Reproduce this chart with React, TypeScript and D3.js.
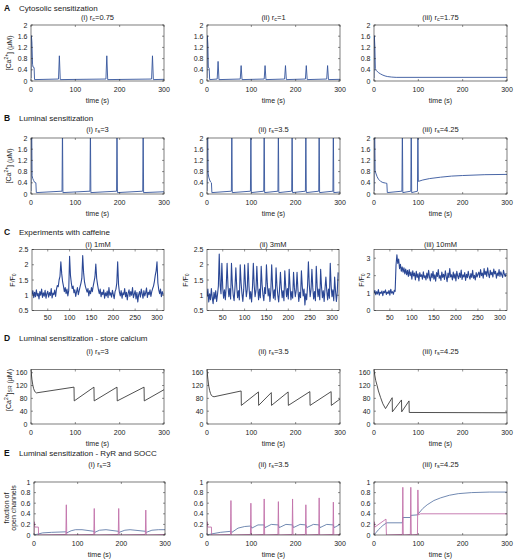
import React from 'react';
import * as d3 from 'd3';

type Pt = [number, number];

// ---------------- DATA ----------------
// A: cytosolic sensitization, [Ca2+] (uM) vs time (s)
const cytoRc075: Pt[] = [[0,0.1],[0.8,1.62],[2,1.4],[3.5,0.6],[4.5,0.5],[7,0.48],[8,0.05],[62,0.07],[64,0.9],[66,0.05],[169,0.07],[171,0.9],[173,0.05],[272,0.07],[274,0.9],[276,0.05],[300,0.06]];
const cytoRc1: Pt[] = [[0,0.1],[0.8,1.62],[2,1.3],[3,0.5],[5,0.45],[6,0.05],[23,0.07],[25,0.7],[27,0.05],[75,0.07],[77,0.55],[79,0.05],[129,0.07],[131,0.55],[133,0.05],[175,0.07],[177,0.55],[179,0.05],[222,0.07],[224,0.55],[226,0.05],[270,0.07],[272,0.55],[274,0.05],[300,0.06]];
const cytoRc175: Pt[] = [[0,0.1],[0.8,1.62],[2,1.2],[3,0.45],[5,0.38],[10,0.3],[15,0.25],[20,0.21],[25,0.18],[30,0.16],[40,0.14],[50,0.13],[300,0.13]];

// B: luminal sensitization
const lumRs3: Pt[] = [[0,0.1],[0.5,2.5],[1.5,2.5],[2.5,0.65],[4,0.55],[6,0.48],[8,0.42],[11,0.4],[12,0.05],[70,0.1],[71,2.5],[72,0.05],[133,0.1],[134,2.5],[135,0.05],[193,0.1],[194,2.5],[195,0.05],[252,0.1],[253,2.5],[254,0.05],[300,0.08]];
const lumRs35: Pt[] = [[0,0.1],[0.5,2.5],[1.5,2.5],[2.5,0.75],[4,0.6],[6,0.5],[8,0.43],[10,0.4],[11,0.05],[55,0.1],[56,2.5],[57,0.05],[98,0.1],[99,2.5],[100,0.05],[128,0.1],[129,2.5],[130,0.05],[160,0.1],[161,2.5],[162,0.05],[191,0.1],[192,2.5],[193,0.05],[222,0.1],[223,2.5],[224,0.05],[252,0.1],[253,2.5],[254,0.05],[284,0.1],[285,2.5],[286,0.05],[300,0.07]];
const lumRs425: Pt[] = [[0,0.1],[0.5,2.5],[1.5,2.5],[2.5,0.85],[4,0.75],[7,0.62],[10,0.53],[15,0.45],[20,0.41],[26,0.39],[29,0.38],[30,0.05],[63,0.1],[64,2.5],[65,0.05],[83,0.1],[84,2.5],[85,0.05],[98,0.1],[99,2.5],[100,0.45],[110,0.5],[125,0.55],[150,0.6],[175,0.64],[200,0.66],[250,0.69],[300,0.7]];

// C: caffeine experiments, F/F0 sampled every 2 s from t = 14 s
const caffeineStart = 14;
const caffeineStep = 2;
const caff1mM: number[] = [
  1.02,1.15,0.92,1.10,0.95,1.18,0.98,1.06,0.88,1.12,1.00,1.20,0.93,1.08,0.97,1.16,0.90,1.05,1.13,0.94,1.09,0.99,1.22,0.91,1.07,1.02,1.17,0.96,
  1.20,1.32,1.28,1.50,1.62,2.10,1.70,1.45,1.30,1.12,1.25,
  1.05,1.20,0.98,1.15,
  2.28,
  1.65,1.40,1.22,1.30,1.08,
  1.18,0.96,1.12,1.25,1.02,1.15,1.28,1.40,
  1.55,2.30,1.75,1.45,1.30,1.20,1.10,
  1.22,0.98,1.15,1.05,1.25,1.12,1.30,
  1.45,1.60,2.02,1.55,1.35,1.18,1.05,1.20,
  0.95,1.10,1.02,1.18,0.90,1.08,0.98,1.14,0.92,1.25,1.00,1.08,0.94,1.16,1.03,0.89,1.12,1.20,
  1.40,2.10,1.35,1.10,
  0.98,1.15,0.90,1.08,1.02,1.22,0.95,1.10,0.85,1.06,1.18,0.96,1.12,1.00,1.25,0.92,1.04,1.15,0.88,1.10,0.78,1.02,1.12,0.94,1.20,1.05,0.90,1.15,0.98,1.08,1.24,0.93,1.10,1.02,1.18,0.96,1.12,1.22,
  1.30,1.45,1.65,1.80,2.10,
  1.40,1.18,1.05,1.20,0.95,1.12,1.02,
];
const caff3mM: number[] = [
  0.95,1.20,0.78,1.05,0.85,1.22,0.92,0.72,1.10,0.88,1.15,0.80,1.02,1.30,2.35,1.35,1.05,2.05,1.25,0.90,
  1.18,0.85,1.30,2.05,1.30,0.95,1.22,0.88,2.05,1.35,1.00,0.82,1.25,1.90,1.28,0.92,1.15,0.85,2.00,1.40,
  1.05,0.80,1.20,2.00,1.35,0.95,1.18,2.05,1.30,0.88,1.12,0.78,1.25,2.05,1.32,0.95,1.15,1.95,1.28,0.85,
  1.20,0.92,1.95,1.35,1.02,0.82,1.25,1.05,2.00,1.38,0.98,1.22,0.80,1.15,2.00,1.30,0.90,1.18,0.85,1.90,
  1.32,1.00,0.78,1.20,1.75,1.25,0.92,1.15,0.82,1.80,1.30,0.95,1.22,0.88,1.85,1.28,0.85,1.12,0.90,1.75,
  1.25,0.95,1.15,1.75,1.20,0.80,1.10,0.92,1.80,1.28,0.98,1.20,0.68,1.05,0.85,1.30,2.10,1.35,0.95,1.18,
  1.85,1.25,0.88,1.12,0.82,1.95,1.30,0.95,1.20,0.85,1.85,1.28,0.92,1.15,0.80,1.22,1.60,1.15,0.85,1.20,
  0.90,2.05,1.30,0.95,1.18,0.82,1.60,1.15,0.80,1.10,1.75,
];
const caff10mM: number[] = [
  1.00,1.15,0.90,1.08,0.95,1.20,0.88,1.05,0.98,1.12,0.85,1.10,1.02,1.18,0.92,1.06,0.97,1.15,0.88,1.22,1.00,1.08,0.93,1.16,1.10,
  2.60,3.20,2.70,2.95,2.40,2.65,2.25,2.50,2.20,2.45,2.10,2.38,2.05,2.30,
  1.95,2.35,2.00,2.20,1.80,2.28,1.98,2.15,1.75,2.25,1.90,2.10,1.70,2.18,1.95,2.05,1.80,2.22,1.88,2.00,
  1.75,2.15,1.85,2.30,1.92,1.70,2.12,1.88,2.25,1.80,2.05,1.68,2.18,1.95,2.35,1.85,2.00,1.72,2.20,1.90,
  2.08,1.78,2.28,1.95,1.65,2.15,1.88,2.40,1.92,2.05,1.75,2.20,1.85,2.10,1.70,2.25,1.98,1.82,2.15,1.90,
  2.32,1.78,2.05,1.92,2.18,1.72,2.08,1.88,2.25,1.95,1.80,2.12,1.90,2.30,1.85,2.02,1.75,2.18,1.92,2.08,
  2.20,1.90,2.35,2.00,2.15,1.85,2.40,2.05,2.25,1.95,2.45,2.10,1.88,2.30,2.05,2.20,1.92,2.38,2.10,2.25,
  1.85,2.15,2.00,2.35,1.95,2.22,2.05,1.90,2.30,2.08,1.95,2.15,
];

// D: store calcium [Ca2+]SR (uM)
const storeRs3: Pt[] = [[0,168],[2,140],[4,122],[6,110],[8,103],[10,99],[12,97],[97,115],[97.5,72],[142,115],[142.5,72],[194,115],[194.5,72],[255,115],[255.5,72],[300,107]];
const storeRs35: Pt[] = [[0,168],[2,140],[4,118],[6,104],[8,95],[10,89],[13,86],[16,85],[77,103],[77.5,58],[116,100],[116.5,58],[145,98],[145.5,58],[183,100],[183.5,58],[232,101],[232.5,58],[280,101],[280.5,58],[300,78]];
const storeRs425: Pt[] = [[0,168],[2,150],[4,135],[7,120],[10,103],[15,82],[20,63],[26,48],[41,82],[41.5,38],[62,75],[62.5,38],[79,72],[79.5,36],[300,35]];

// E: fraction of open channels (RyR pink, SOCC blue)
const ryrRs3: Pt[] = [[0,0.02],[0.5,0.25],[1.5,0.16],[2,0.15],[10,0.15],[10.5,0],[73,0.01],[74,0.57],[75,0],[137,0.01],[138,0.5],[139,0],[193,0.01],[194,0.5],[195,0],[255,0.01],[256,0.47],[257,0],[300,0.01]];
const soccRs3: Pt[] = [[0,0],[5,0.01],[10,0.02],[20,0.04],[40,0.05],[73,0.06],[75,0.04],[85,0.08],[95,0.1],[110,0.1],[137,0.07],[139,0.05],[150,0.09],[165,0.1],[193,0.07],[195,0.05],[208,0.09],[220,0.1],[255,0.07],[257,0.05],[270,0.09],[285,0.1],[300,0.1]];
const ryrRs35: Pt[] = [[0,0.02],[0.5,0.25],[1.5,0.16],[2,0.15],[10,0.15],[10.5,0],[53,0.01],[54,0.65],[55,0],[98,0.01],[99,0.6],[100,0],[128,0.01],[129,0.68],[130,0],[160,0.01],[161,0.63],[162,0],[192,0.01],[193,0.68],[194,0],[222,0.01],[223,0.57],[224,0],[252,0.01],[253,0.7],[254,0],[284,0.01],[285,0.62],[286,0],[300,0.01]];
const soccRs35: Pt[] = [[0,0],[10,0.02],[30,0.05],[54,0.07],[56,0.05],[70,0.13],[85,0.16],[99,0.17],[101,0.13],[115,0.19],[129,0.19],[131,0.14],[145,0.2],[161,0.19],[163,0.14],[178,0.2],[193,0.19],[195,0.14],[210,0.2],[223,0.19],[225,0.14],[240,0.2],[253,0.19],[255,0.14],[270,0.2],[285,0.19],[287,0.14],[300,0.2]];
const ryrRs425: Pt[] = [[0,0.02],[0.5,0.25],[1.5,0.16],[2,0.15],[27,0.3],[28,0],[64,0.01],[65,0.9],[66,0],[82,0.01],[83,0.9],[84,0],[98,0.01],[99,0.85],[100,0.38],[105,0.4],[300,0.4]];
const soccRs425: Pt[] = [[0,0],[5,0.05],[10,0.1],[15,0.14],[20,0.18],[25,0.21],[29,0.23],[64,0.23],[65,0.33],[82,0.33],[83,0.37],[98,0.38],[100,0.4],[110,0.5],[120,0.57],[135,0.65],[150,0.7],[170,0.75],[190,0.78],[220,0.8],[260,0.81],[300,0.81]];

// Tick values
const timeTicks = [0, 100, 200, 300];
const caffTimeTicks = [50, 100, 150, 200, 250, 300];
const caTicks = [0, 0.4, 0.8, 1.2, 1.6, 2];
const caffTicksLow = [0.5, 1, 1.5, 2, 2.5];
const caffTicksHigh = [0, 1, 2, 3];
const storeTicks = [0, 40, 80, 120, 160];
const fracTicks = [0, 0.2, 0.4, 0.6, 0.8, 1];

// ---------------- STYLE / LAYOUT ----------------
const FONT = '"Liberation Sans", Arial, Helvetica, sans-serif';
const AXIS = '#262626';
const BLUE = '#34559c';
const CAFF = '#2a4795';
const GRAY = '#3c3c3c';
const EBLUE = '#4e6c9e';
const PINK = '#c272aa';

const caffPts = (vals: number[]): Pt[] => vals.map((v, i) => [caffeineStart + i * caffeineStep, v]);

type Series = { points: Pt[]; color: string; width?: number };

type PanelProps = {
  id: string;
  x0: number; x1: number; y0: number; y1: number;
  xDomain: [number, number]; yDomain: [number, number];
  xTicks: number[]; yTicks: number[];
  series: Series[];
  subtitle: React.ReactNode; subY: number;
  yLabel?: React.ReactNode;
  xLabel?: boolean;
  xLabGap?: number;
};

function Panel(p: PanelProps) {
  const x = d3.scaleLinear().domain(p.xDomain).range([p.x0, p.x1]);
  const y = d3.scaleLinear().domain(p.yDomain).range([p.y1, p.y0]);
  const line = d3.line<Pt>().x(d => x(d[0])).y(d => y(d[1]));
  const tl = 2;
  const gap = p.xLabGap ?? 8.5;
  return (
    <g>
      <clipPath id={`clip-${p.id}`}>
        <rect x={p.x0} y={p.y0} width={p.x1 - p.x0} height={p.y1 - p.y0} />
      </clipPath>
      <g clipPath={`url(#clip-${p.id})`}>
        {p.series.map((s, i) => (
          <path key={i} d={line(s.points) || ''} fill="none" stroke={s.color} strokeWidth={s.width ?? 0.9} strokeLinejoin="round" />
        ))}
      </g>
      <rect x={p.x0} y={p.y0} width={p.x1 - p.x0} height={p.y1 - p.y0} fill="none" stroke={AXIS} strokeWidth={0.6} />
      {p.xTicks.map(t => (
        <g key={`xt${t}`}>
          <line x1={x(t)} x2={x(t)} y1={p.y1} y2={p.y1 - tl} stroke={AXIS} strokeWidth={0.5} />
          <line x1={x(t)} x2={x(t)} y1={p.y0} y2={p.y0 + tl} stroke={AXIS} strokeWidth={0.5} />
          <text x={x(t)} y={p.y1 + gap} textAnchor="middle" dominantBaseline="central" fontSize={7} fill="#222">{String(t)}</text>
        </g>
      ))}
      {p.yTicks.map(t => (
        <g key={`yt${t}`}>
          <line x1={p.x0} x2={p.x0 + tl} y1={y(t)} y2={y(t)} stroke={AXIS} strokeWidth={0.5} />
          <line x1={p.x1} x2={p.x1 - tl} y1={y(t)} y2={y(t)} stroke={AXIS} strokeWidth={0.5} />
          <text x={p.x0 - 3.5} y={y(t)} textAnchor="end" dominantBaseline="central" fontSize={7} fill="#222">{String(t)}</text>
        </g>
      ))}
      {p.xLabel && (
        <text x={(p.x0 + p.x1) / 2} y={p.y1 + 19} textAnchor="middle" dominantBaseline="central" fontSize={7} fill="#222">time (s)</text>
      )}
      <text x={(p.x0 + p.x1) / 2} y={p.subY} textAnchor="middle" dominantBaseline="central" fontSize={7.5} fill="#222">{p.subtitle}</text>
      {p.yLabel}
    </g>
  );
}

const Sub = ({ base, sub, rest }: { base: string; sub: string; rest: string }) => (
  <>
    {base}
    <tspan fontSize={5.5} dy={1.8}>{sub}</tspan>
    <tspan dy={-1.8}>{rest}</tspan>
  </>
);

const rotLabel = (x: number, y: number, content: React.ReactNode) => (
  <text transform={`translate(${x},${y}) rotate(-90)`} textAnchor="middle" dominantBaseline="central" fontSize={7} fill="#222">{content}</text>
);

const caLabel = (x: number, y: number) => rotLabel(x, y, (
  <>[Ca<tspan fontSize={5} dy={-2.5}>2+</tspan><tspan dy={2.5}>] (μM)</tspan></>
));
const srLabel = (x: number, y: number) => rotLabel(x, y, (
  <>[Ca<tspan fontSize={5} dy={-2.5}>2+</tspan><tspan dy={2.5}>]</tspan><tspan fontSize={5} dy={1.8}>SR</tspan><tspan dy={-1.8}> (μM)</tspan></>
));
const ffLabel = (x: number, y: number) => rotLabel(x, y, (
  <>F/F<tspan fontSize={5} dy={1.8}>0</tspan></>
));
const fracLabel = (x: number, y: number) => (
  <text transform={`translate(${x},${y}) rotate(-90)`} textAnchor="middle" fontSize={7} fill="#222">
    <tspan x={0} dy={0}>fraction of</tspan>
    <tspan x={0} dy={7}>open channels</tspan>
  </text>
);

const COLS: [number, number][] = [[31, 164], [207, 340], [374, 507]];
const COLS_C: [number, number][] = [[32, 164], [207, 339], [374, 507]];
const COLS_E: [number, number][] = [[34, 165], [207, 340], [374, 507]];

const Title = ({ y, letter, text }: { y: number; letter: string; text: string }) => (
  <g>
    <text x={4} y={y} dominantBaseline="central" fontSize={8.5} fontWeight="bold" fill="#111">{letter}</text>
    <text x={19} y={y} dominantBaseline="central" fontSize={8} fill="#222">{text}</text>
  </g>
);

export default function App() {
  const rA = { y0: 25, y1: 81 };
  const rB = { y0: 138, y1: 194 };
  const rC = { y0: 249.5, y1: 310.5 };
  const rD = { y0: 369.5, y1: 424 };
  const rE = { y0: 482, y1: 535 };

  const aSeries = [cytoRc075, cytoRc1, cytoRc175];
  const aSubs = [['(i) r', 'c', '=0.75'], ['(ii) r', 'c', '=1'], ['(iii) r', 'c', '=1.75']];
  const sSubs = [['(i) r', 's', '=3'], ['(ii) r', 's', '=3.5'], ['(iii) r', 's', '=4.25']];
  const bSeries = [lumRs3, lumRs35, lumRs425];
  const cSeries = [caff1mM, caff3mM, caff10mM];
  const cSubs = ['(i) 1mM', '(ii) 3mM', '(iii) 10mM'];
  const cYLabX = [12, 185, 361];
  const dSeries = [storeRs3, storeRs35, storeRs425];
  const eSeries: Series[][] = [
    [{ points: soccRs3, color: EBLUE, width: 0.8 }, { points: ryrRs3, color: PINK, width: 0.9 }],
    [{ points: soccRs35, color: EBLUE, width: 0.8 }, { points: ryrRs35, color: PINK, width: 0.9 }],
    [{ points: soccRs425, color: EBLUE, width: 0.8 }, { points: ryrRs425, color: PINK, width: 0.9 }],
  ];

  return (
    <svg width={515} height={560} viewBox="0 0 515 560" style={{ position: 'absolute', left: 0, top: 0, fontFamily: FONT, background: '#fff' }}>
      <rect x={0} y={0} width={515} height={560} fill="#fff" />
      <Title y={8} letter="A" text="Cytosolic sensitization" />
      <Title y={118} letter="B" text="Luminal sensitization" />
      <Title y={232} letter="C" text="Experiments with caffeine" />
      <Title y={338} letter="D" text="Luminal sensitization - store calcium" />
      <Title y={453} letter="E" text="Luminal sensitization - RyR and SOCC" />

      {COLS.map((c, i) => (
        <Panel key={`A${i}`} id={`A${i}`} x0={c[0]} x1={c[1]} {...rA} xDomain={[0, 300]} yDomain={[0, 2]}
          xTicks={timeTicks} yTicks={caTicks} series={[{ points: aSeries[i], color: BLUE }]}
          subtitle={<Sub base={aSubs[i][0]} sub={aSubs[i][1]} rest={aSubs[i][2]} />} subY={17}
          yLabel={i === 0 ? caLabel(8.5, 53) : undefined} xLabel />
      ))}

      {COLS.map((c, i) => (
        <Panel key={`B${i}`} id={`B${i}`} x0={c[0]} x1={c[1]} {...rB} xDomain={[0, 300]} yDomain={[0, 2]}
          xTicks={timeTicks} yTicks={caTicks} series={[{ points: bSeries[i], color: BLUE }]}
          subtitle={<Sub base={sSubs[i][0]} sub={sSubs[i][1]} rest={sSubs[i][2]} />} subY={129}
          yLabel={i === 0 ? caLabel(8.5, 166) : undefined} xLabel />
      ))}

      {COLS_C.map((c, i) => (
        <Panel key={`C${i}`} id={`C${i}`} x0={c[0]} x1={c[1]} {...rC} xDomain={[14, 316]}
          yDomain={i === 2 ? [0, 3.5] : [0.5, 2.5]}
          xTicks={caffTimeTicks} yTicks={i === 2 ? caffTicksHigh : caffTicksLow}
          series={[{ points: caffPts(cSeries[i]), color: CAFF, width: 1.1 }]}
          subtitle={cSubs[i]} subY={244} xLabGap={7}
          yLabel={ffLabel(cYLabX[i], 280)} />
      ))}

      {COLS.map((c, i) => (
        <Panel key={`D${i}`} id={`D${i}`} x0={c[0]} x1={c[1]} {...rD} xDomain={[0, 300]} yDomain={[0, 170]}
          xTicks={timeTicks} yTicks={storeTicks} series={[{ points: dSeries[i], color: GRAY }]}
          subtitle={<Sub base={sSubs[i][0]} sub={sSubs[i][1]} rest={sSubs[i][2]} />} subY={351}
          yLabel={i === 0 ? srLabel(8.5, 390) : undefined} xLabel />
      ))}

      {COLS_E.map((c, i) => (
        <Panel key={`E${i}`} id={`E${i}`} x0={c[0]} x1={c[1]} {...rE} xDomain={[0, 300]} yDomain={[0, 1]}
          xTicks={timeTicks} yTicks={fracTicks} series={eSeries[i]}
          subtitle={<Sub base={sSubs[i][0]} sub={sSubs[i][1]} rest={sSubs[i][2]} />} subY={464}
          yLabel={i === 0 ? fracLabel(9, 508) : undefined} xLabel />
      ))}
    </svg>
  );
}
